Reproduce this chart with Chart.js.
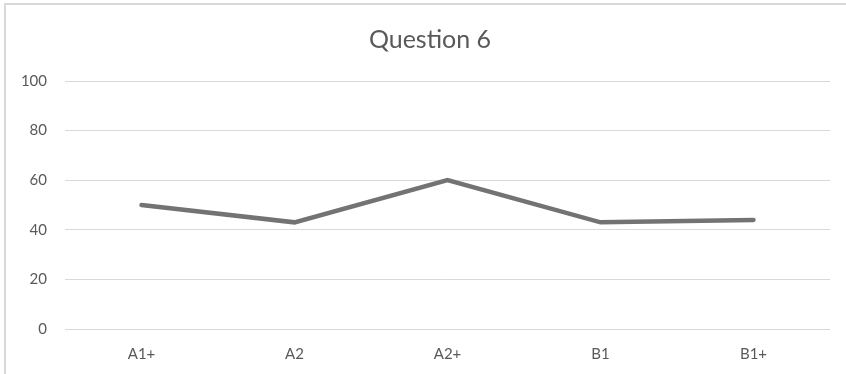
<!DOCTYPE html>
<html>
<head>
<meta charset="utf-8">
<script src="https://cdn.jsdelivr.net/npm/chart.js@4/dist/chart.umd.min.js"></script>
<style>
  html, body { margin: 0; padding: 0; background: #ffffff; }
  #frame {
    position: absolute; left: 4px; top: 3px; width: 850px; height: 380px;
    border-left: 2px solid #d9d9d9; border-top: 2px solid #d9d9d9;
    box-sizing: border-box;
  }
  #chart { position: absolute; left: 0; top: 0; }
</style>
</head>
<body>
<div id="frame"></div>
<canvas id="chart" width="846" height="374"></canvas>
<script>
// Categories and scores for the line
const categories = ['A1+', 'A2', 'A2+', 'B1', 'B1+'];
const scores = [50, 43, 60, 43, 44];
const yTicks = [0, 20, 40, 60, 80, 100];
const chartTitle = 'Question 6';

const fontFamily = 'Lato, "Open Sans", "Liberation Sans", sans-serif';
const textColor = '#595959';
const gridColor = '#d9d9d9';

// Centre the title over the region right of the frame edge
const titleShift = {
  id: 'titleShift',
  afterLayout(chart) {
    if (chart.titleBlock) chart.titleBlock.left = 30;
  }
};

new Chart(document.getElementById('chart'), {
  type: 'line',
  data: {
    labels: categories,
    datasets: [{
      data: scores,
      borderColor: '#737373',
      borderWidth: 4.5,
      pointRadius: 0,
      pointHoverRadius: 0,
      tension: 0,
      fill: false,
      borderCapStyle: 'round',
      borderJoinStyle: 'miter'
    }]
  },
  plugins: [titleShift],
  options: {
    responsive: false,
    animation: false,
    events: [],
    layout: { padding: { left: 0, right: 16, top: 0, bottom: 0 } },
    plugins: {
      legend: { display: false },
      tooltip: { enabled: false },
      title: {
        display: true,
        text: chartTitle,
        color: textColor,
        font: { family: fontFamily, size: 25, weight: 'normal' },
        padding: { top: 25, bottom: 26 }
      }
    },
    scales: {
      x: {
        type: 'category',
        offset: true,
        grid: { display: false, drawTicks: false },
        border: { display: false },
        ticks: {
          color: textColor,
          font: { family: fontFamily, size: 15 },
          padding: 16,
          maxRotation: 0
        },
        afterFit: s => { s.height = 45; }
      },
      y: {
        min: 0,
        max: 100,
        afterBuildTicks: s => { s.ticks = yTicks.map(v => ({ value: v })); },
        grid: { color: gridColor, lineWidth: 1, drawTicks: false },
        border: { display: false },
        ticks: {
          color: textColor,
          font: { family: fontFamily, size: 15 },
          padding: 18
        },
        afterFit: s => { s.width = 65; }
      }
    }
  }
});
</script>
</body>
</html>
